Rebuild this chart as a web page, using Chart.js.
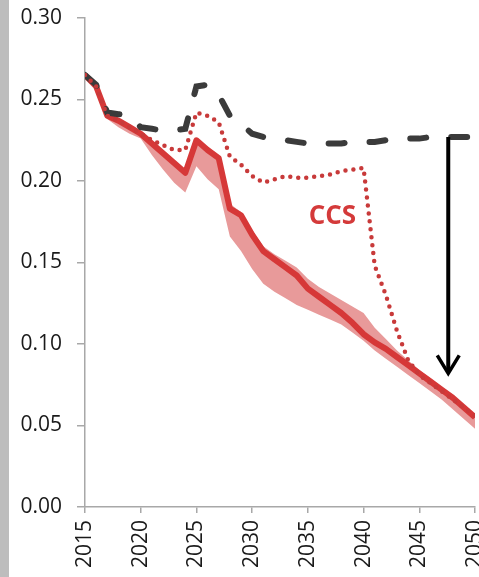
<!DOCTYPE html>
<html>
<head>
<meta charset="utf-8">
<script src="https://cdn.jsdelivr.net/npm/chart.js@4.4.1/dist/chart.umd.min.js"></script>
<style>
  html, body { margin: 0; padding: 0; background: #fff; overflow: hidden; }
  #wrap { position: relative; width: 479px; height: 577px; }
  #bar { position: absolute; left: 0; top: 0; width: 9px; height: 577px; background: #bdbdbd; }
</style>
</head>
<body>
<div id="wrap"><canvas id="chart"></canvas><div id="bar"></div></div>
<script>
const years = [2015, 2016, 2017, 2018, 2019, 2020, 2021, 2022, 2023, 2024, 2025, 2026,
  2027, 2028, 2029, 2030, 2031, 2032, 2033, 2034, 2035, 2036, 2037, 2038,
  2039, 2040, 2041, 2042, 2043, 2044, 2045, 2046, 2047, 2048, 2049, 2050];

const baseline = [0.265, 0.259, 0.242, 0.241, 0.240, 0.233, 0.232, 0.231, 0.231, 0.232, 0.258, 0.259,
  0.253, 0.240, 0.235, 0.229, 0.227, 0.226, 0.225, 0.224, 0.223, 0.223, 0.223, 0.223,
  0.224, 0.224, 0.224, 0.225, 0.225, 0.226, 0.226, 0.227, 0.227, 0.227, 0.227, 0.227];

const ccs = [0.265, 0.258, 0.240, 0.237, 0.233, 0.229, 0.225, 0.222, 0.219, 0.219, 0.242, 0.240,
  0.236, 0.215, 0.210, 0.203, 0.199, 0.201, 0.203, 0.202, 0.202, 0.203, 0.204, 0.206,
  0.207, 0.208, 0.148, 0.130, 0.108, 0.090, 0.081, 0.076, 0.071, 0.066, 0.061, 0.056];

const central = [0.265, 0.258, 0.240, 0.237, 0.233, 0.229, 0.223, 0.217, 0.211, 0.205, 0.225, 0.219,
  0.214, 0.183, 0.179, 0.167, 0.157, 0.152, 0.147, 0.142, 0.134, 0.129, 0.124, 0.119,
  0.113, 0.106, 0.101, 0.097, 0.092, 0.087, 0.082, 0.077, 0.072, 0.067, 0.061, 0.055];

const rangeHigh = [0.265, 0.258, 0.241, 0.238, 0.234, 0.230, 0.224, 0.218, 0.212, 0.206, 0.226, 0.221,
  0.216, 0.186, 0.181, 0.170, 0.160, 0.155, 0.151, 0.147, 0.140, 0.135, 0.131, 0.127,
  0.123, 0.119, 0.110, 0.103, 0.096, 0.090, 0.084, 0.079, 0.073, 0.068, 0.062, 0.056];

const rangeLow = [0.265, 0.257, 0.238, 0.233, 0.229, 0.226, 0.216, 0.207, 0.199, 0.193, 0.209, 0.201,
  0.195, 0.166, 0.157, 0.146, 0.137, 0.132, 0.128, 0.124, 0.121, 0.118, 0.115, 0.112,
  0.107, 0.102, 0.096, 0.091, 0.086, 0.081, 0.076, 0.071, 0.066, 0.060, 0.054, 0.048];

const xTicks = [2015, 2020, 2025, 2030, 2035, 2040, 2045, 2050];
const yTicks = [0, 0.05, 0.10, 0.15, 0.20, 0.25, 0.30];

const ccsLabel = { text: 'CCS', x: 2037.2, y: 0.178 };
const gapArrow = { x: 2047.6, from: 0.227, to: 0.082 };

const tickFont = { family: '"Open Sans", sans-serif', size: 21 };
const axisGrey = '#a8a8a8';

const pts = vals => years.map((yr, i) => ({ x: yr, y: vals[i] }));

const annotations = {
  id: 'annotations',
  afterDatasetsDraw(chart) {
    const { ctx, scales: { x, y } } = chart;
    ctx.save();
    const ax = x.getPixelForValue(gapArrow.x);
    const top = y.getPixelForValue(gapArrow.from);
    const tip = y.getPixelForValue(gapArrow.to);
    ctx.strokeStyle = '#000';
    ctx.lineWidth = 4;
    ctx.beginPath();
    ctx.moveTo(ax, top);
    ctx.lineTo(ax, tip - 2);
    ctx.stroke();
    ctx.lineWidth = 3.5;
    ctx.beginPath();
    ctx.moveTo(ax - 11, tip - 18);
    ctx.lineTo(ax, tip);
    ctx.lineTo(ax + 11, tip - 18);
    ctx.stroke();

    ctx.fillStyle = '#d43a3a';
    ctx.font = 'bold 26px "Open Sans", sans-serif';
    ctx.textAlign = 'center';
    ctx.textBaseline = 'middle';
    ctx.fillText(ccsLabel.text, x.getPixelForValue(ccsLabel.x), y.getPixelForValue(ccsLabel.y));
    ctx.restore();
  }
};

new Chart(document.getElementById('chart'), {
  type: 'line',
  data: {
    datasets: [
      { data: pts(rangeLow), borderWidth: 0, pointRadius: 0, fill: false, order: 4 },
      { data: pts(rangeHigh), borderWidth: 0, pointRadius: 0, fill: '-1', backgroundColor: '#e89a9a', order: 3 },
      { data: pts(central), borderColor: '#d63838', borderWidth: 6, pointRadius: 0, borderJoinStyle: 'round', order: 2 },
      { data: pts(baseline), borderColor: '#3b3b3b', borderWidth: 6, borderDash: [16, 25], borderCapStyle: 'round', pointRadius: 0, order: 1 },
      { data: pts(ccs), borderColor: '#c83a3a', borderWidth: 4.5, borderDash: [0, 8], borderCapStyle: 'round', pointRadius: 0, order: 0 }
    ]
  },
  options: {
    responsive: true,
    maintainAspectRatio: false,
    animation: false,
    layout: { padding: { left: 0, right: 4, top: 18, bottom: 0 } },
    plugins: { legend: { display: false }, tooltip: { enabled: false } },
    elements: { line: { tension: 0 } },
    scales: {
      x: {
        type: 'linear',
        min: 2015,
        max: 2050,
        grid: { drawOnChartArea: false, drawTicks: true, tickLength: 6, color: axisGrey, lineWidth: 1.5 },
        border: { color: axisGrey, width: 1.5 },
        ticks: {
          font: tickFont,
          color: '#1a1a1a',
          minRotation: 90,
          maxRotation: 90,
          padding: 7,
          autoSkip: false,
          callback: v => String(v)
        },
        afterBuildTicks: s => { s.ticks = xTicks.map(v => ({ value: v })); },
        afterFit: s => { s.height = 70; s.paddingLeft = 0; s.paddingRight = 0; }
      },
      y: {
        min: 0,
        max: 0.30,
        grid: { drawOnChartArea: false, drawTicks: true, tickLength: 8, color: axisGrey, lineWidth: 1.5 },
        border: { color: axisGrey, width: 1.5 },
        ticks: {
          font: tickFont,
          color: '#1a1a1a',
          padding: 15,
          callback: v => v.toFixed(2)
        },
        afterBuildTicks: s => { s.ticks = yTicks.map(v => ({ value: v })); },
        afterFit: s => { s.width = 85; s.paddingTop = 0; s.paddingBottom = 0; }
      }
    }
  },
  plugins: [annotations]
});
</script>
</body>
</html>
